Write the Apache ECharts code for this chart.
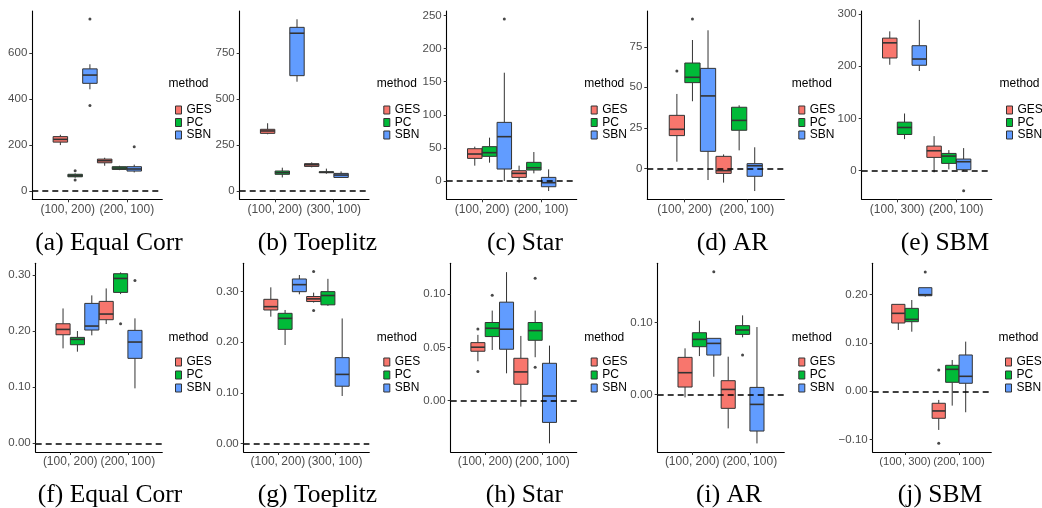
<!DOCTYPE html>
<html lang="en">
<head>
<meta charset="UTF-8">
<title>boxplots</title>
<script src="https://cdn.jsdelivr.net/npm/echarts@6/dist/echarts.min.js"></script>
<style>
  html, body { margin: 0; padding: 0; background: #fff; }
  #main { width: 1042px; height: 508px; }
</style>
</head>
<body>
<div id="main"></div>
<script>
  // 方法和颜色
  var methods = ['GES', 'PC', 'SBN'];
  var colors = ['#F8766D', '#00BA38', '#619CFF'];

  // x 轴分类
  var cats12 = ['(100, 200)', '(200, 100)'];
  var cats31 = ['(100, 200)', '(300, 100)'];
  var catsSbm = ['(100, 300)', '(200, 100)'];

  // y 轴刻度
  var ticksA = [0, 200, 400, 600];
  var ticksB = [0, 250, 500, 750];
  var ticksC = [0, 50, 100, 150, 200, 250];
  var ticksD = [0, 25, 50, 75];
  var ticksE = [0, 100, 200, 300];
  var ticksF = [0, 0.1, 0.2, 0.3];
  var ticksG = [0, 0.1, 0.2, 0.3];
  var ticksH = [0, 0.05, 0.1];
  var ticksI = [0, 0.1];
  var ticksJ = [-0.1, 0, 0.1, 0.2];

  // 箱线数据: [GES, PC, SBN], 每个方法两组 [low, q1, median, q3, high]
  var statsA = [
    [[200, 213, 225, 237, 245], [110, 123, 132, 139, 145]],
    [[58, 62, 67, 73, 77], [91, 94, 100, 106, 110]],
    [[443, 469, 505, 532, 552], [81, 87, 96, 106, 115]]
  ];
  var statsB = [
    [[309, 314, 327, 336, 369], [129, 134, 143, 149, 156]],
    [[74, 91, 100, 109, 127], [94, 100, 102, 105, 122]],
    [[595, 628, 859, 891, 935], [71, 74, 87, 96, 107]]
  ];
  var statsC = [
    [[23.2, 34.2, 40.8, 48.8, 51.9], [-2.5, 5.5, 11.6, 15.6, 23.2]],
    [[27.7, 37.3, 42.8, 51.9, 65.5], [11.6, 16.6, 20.1, 28.2, 43.8]],
    [[0, 18.1, 67, 88.6, 163.6], [-15.1, -8.6, -2.5, 5.5, 17.6]]
  ];
  var statsD = [
    [[4.1, 20.2, 24.1, 32.7, 45.9], [-8.8, -3.1, -1.4, 7.4, 8.6]],
    [[41.4, 52.9, 56.2, 65.0, 79.2], [11.1, 23.5, 29.6, 37.7, 38.9]],
    [[-7.2, 10.5, 44.7, 61.7, 85.2], [-14.0, -4.9, 1.6, 2.9, 13.0]]
  ];
  var statsE = [
    [[203, 216, 245, 254, 267], [-3.2, 25.5, 38.2, 47.1, 66.2]],
    [[60.5, 69.4, 82.8, 93, 109.6], [2.5, 14, 28, 33.1, 39.5]],
    [[191, 202, 214, 239.5, 289], [0, 1.9, 17.2, 22.3, 43.3]]
  ];
  var statsF = [
    [[0.1693, 0.1936, 0.2031, 0.2132, 0.2405], [0.2127, 0.2204, 0.2305, 0.2531, 0.2762]],
    [[0.1634, 0.1758, 0.1853, 0.1889, 0.2002], [0.2661, 0.2691, 0.2940, 0.3024, 0.3048]],
    [[0.1925, 0.2020, 0.2091, 0.2495, 0.2638], [0.0980, 0.1515, 0.1806, 0.2014, 0.2228]]
  ];
  var statsG = [
    [[0.2505, 0.2637, 0.2703, 0.2848, 0.3085], [0.2784, 0.2804, 0.2857, 0.2903, 0.298]],
    [[0.1945, 0.2254, 0.2472, 0.2571, 0.2637], [0.2719, 0.2739, 0.2923, 0.300, 0.3253]],
    [[0.2947, 0.2999, 0.3138, 0.3250, 0.3329], [0.0937, 0.113, 0.1364, 0.1695, 0.247]]
  ];
  var statsH = [
    [[0.037, 0.0464, 0.0502, 0.0545, 0.0618], [-0.0056, 0.0154, 0.0270, 0.0398, 0.0608]],
    [[0.0476, 0.0602, 0.0680, 0.0734, 0.0846], [0.0408, 0.0567, 0.0658, 0.0734, 0.0846]],
    [[0.0257, 0.0483, 0.0671, 0.0925, 0.1207], [-0.0401, -0.0204, 0.0044, 0.0351, 0.0517]]
  ];
  var statsI = [
    [[-0.0042, 0.0102, 0.0301, 0.0514, 0.0639], [-0.0472, -0.0194, 0.0069, 0.0190, 0.0523]],
    [[0.0532, 0.0662, 0.0764, 0.0856, 0.1023], [0.0792, 0.0833, 0.0894, 0.0954, 0.1097]],
    [[0.0245, 0.0546, 0.0708, 0.0778, 0.0778], [-0.0681, -0.0509, -0.0139, 0.0097, 0.0935]]
  ];
  var statsJ = [
    [[0.1269, 0.1414, 0.1614, 0.180, 0.180], [-0.080, -0.0559, -0.0407, -0.0248, -0.0179]],
    [[0.1234, 0.1441, 0.149, 0.1717, 0.189], [-0.0297, 0.0186, 0.0455, 0.0538, 0.0648]],
    [[0.1959, 0.1979, 0.2, 0.2145, 0.2145], [-0.0434, 0.0166, 0.031, 0.0752, 0.1028]]
  ];

  // 离群点: [方法序号, 分组序号, 值]
  var outA = [[1, 0, 88], [1, 0, 48], [2, 0, 749], [2, 0, 373], [2, 1, 193]];
  var outB = [];
  var outC = [[2, 0, 244.7]];
  var outD = [[0, 0, 60.1], [1, 0, 92.2]];
  var outE = [[2, 1, -38.2]];
  var outF = [[1, 1, 0.2132], [2, 1, 0.2905]];
  var outG = [[0, 1, 0.340], [0, 1, 0.2626]];
  var outH = [[0, 0, 0.0674], [0, 0, 0.0273], [1, 0, 0.0991], [1, 1, 0.1150], [1, 1, 0.0313]];
  var outI = [[2, 0, 0.1704], [1, 1, 0.0546]];
  var outJ = [[2, 0, 0.2469], [0, 1, -0.1076], [0, 1, 0.0441]];

  // 面板布局
  var panels = [
    {stats: statsA, out: outA, cats: cats12, ticks: ticksA, dec: 0, caption: '(a) Equal Corr',
      left: 32.3, top: 11, width: 130, height: 188.3, ymin: -36, ymax: 784, legX: 170, capX: 109},
    {stats: statsB, out: outB, cats: cats31, ticks: ticksB, dec: 0, caption: '(b) Toeplitz',
      left: 239.7, top: 11, width: 129.3, height: 188.3, ymin: -45, ymax: 980, legX: 378.3, capX: 317.5},
    {stats: statsC, out: outC, cats: cats12, ticks: ticksC, dec: 0, caption: '(c) Star',
      left: 446.7, top: 11, width: 130, height: 188.3, ymin: -27.6, ymax: 256.8, legX: 585.7, capX: 525},
    {stats: statsD, out: outD, cats: cats12, ticks: ticksD, dec: 0, caption: '(d) AR',
      left: 647.3, top: 11, width: 137, height: 188.3, ymin: -19.1, ymax: 97.1, legX: 793.3, capX: 732.5},
    {stats: statsE, out: outE, cats: catsSbm, ticks: ticksE, dec: 0, caption: '(e) SBM',
      left: 861.7, top: 11, width: 130, height: 188.3, ymin: -54.8, ymax: 306, legX: 1001, capX: 945},
    {stats: statsF, out: outF, cats: cats12, ticks: ticksF, dec: 2, caption: '(f) Equal Corr',
      left: 35.7, top: 263.3, width: 126.6, height: 188.7, ymin: -0.0155, ymax: 0.321, legX: 170, capX: 110},
    {stats: statsG, out: outG, cats: cats31, ticks: ticksG, dec: 2, caption: '(g) Toeplitz',
      left: 243.7, top: 263.3, width: 125.6, height: 188.7, ymin: -0.017, ymax: 0.356, legX: 378.3, capX: 317.5},
    {stats: statsH, out: outH, cats: cats12, ticks: ticksH, dec: 2, caption: '(h) Star',
      left: 450.7, top: 263.3, width: 126, height: 188.7, ymin: -0.0482, ymax: 0.129, legX: 585.7, capX: 524.3},
    {stats: statsI, out: outI, cats: cats12, ticks: ticksI, dec: 2, caption: '(i) AR',
      left: 657.7, top: 263.3, width: 126.6, height: 188.7, ymin: -0.080, ymax: 0.182, legX: 793.3, capX: 729},
    {stats: statsJ, out: outJ, cats: catsSbm, ticks: ticksJ, dec: 2, caption: '(j) SBM',
      left: 872.7, top: 263.3, width: 118.6, height: 188.7, ymin: -0.1257, ymax: 0.265, legX: 1000, capX: 940}
  ];

  var sans = 'Liberation Sans, Arial, sans-serif';
  var serif = 'Liberation Serif, Times New Roman, serif';
  var boxW = 0.245;

  // 箱子的 x 位置 (分组 g, 方法 m)
  function boxX(g, m) {
    return 0.875 + 0.25 * (g * 3 + m);
  }

  function renderBox(params, api) {
    var x = api.value(0);
    var half = api.size([boxW, 0])[0] / 2;
    var lo = api.coord([x, api.value(1)]);
    var q1 = api.coord([x, api.value(2)]);
    var md = api.coord([x, api.value(3)]);
    var q3 = api.coord([x, api.value(4)]);
    var hi = api.coord([x, api.value(5)]);
    var stroke = {stroke: '#333333', lineWidth: 1};
    return {
      type: 'group',
      children: [
        {type: 'line', shape: {x1: hi[0], y1: hi[1], x2: q3[0], y2: q3[1]}, style: stroke},
        {type: 'line', shape: {x1: q1[0], y1: q1[1], x2: lo[0], y2: lo[1]}, style: stroke},
        {type: 'rect', shape: {x: q3[0] - half, y: q3[1], width: half * 2, height: q1[1] - q3[1]},
          style: {fill: api.visual('color'), stroke: '#333333', lineWidth: 1}},
        {type: 'line', shape: {x1: md[0] - half, y1: md[1], x2: md[0] + half, y2: md[1]},
          style: {stroke: '#333333', lineWidth: 1.6}}
      ]
    };
  }

  var grids = [], xAxes = [], yAxes = [], series = [], legends = [], graphics = [];

  panels.forEach(function (p, i) {
    var top = i < 5;
    // 标签太挤的面板把字号调小一点, 免得被自动隐藏
    var xFont = p.width < 120 ? 11.3 : 12;
    grids.push({left: p.left, top: p.top, width: p.width, height: p.height});
    xAxes.push({
      gridIndex: i, type: 'value', min: 0.4, max: 2.6,
      axisLine: {show: true, onZero: false, lineStyle: {color: '#000', width: 1.1}},
      axisTick: {show: true, customValues: [1, 2], length: 3, lineStyle: {color: '#333'}},
      axisLabel: {
        customValues: [1, 2], margin: 4, color: '#4d4d4d', fontSize: xFont, fontFamily: sans,
        showMinLabel: true, showMaxLabel: true, hideOverlap: false,
        formatter: function (v) { return p.cats[Math.round(v) - 1]; }
      },
      splitLine: {show: false}
    });
    yAxes.push({
      gridIndex: i, type: 'value', min: p.ymin, max: p.ymax,
      axisLine: {show: true, onZero: false, lineStyle: {color: '#000', width: 1.1}},
      axisTick: {show: true, customValues: p.ticks, length: 3, lineStyle: {color: '#333'}},
      axisLabel: {
        customValues: p.ticks, margin: 5, color: '#4d4d4d', fontSize: 11.5, fontFamily: sans,
        showMinLabel: true, showMaxLabel: true,
        formatter: function (v) {
          var s = v.toFixed(p.dec);
          return s.charAt(0) === '-' ? '\u2212' + s.slice(1) : s;
        }
      },
      splitLine: {show: false}
    });

    // 每个方法一个自定义箱线系列
    methods.forEach(function (name, m) {
      var data = p.stats[m].map(function (s, g) {
        return [boxX(g, m)].concat(s);
      });
      series.push({
        name: name, type: 'custom', xAxisIndex: i, yAxisIndex: i,
        itemStyle: {color: colors[m]},
        encode: {x: 0, y: [1, 2, 3, 4, 5]},
        renderItem: renderBox,
        data: data,
        silent: true, z: 3
      });
    });

    // 离群点和 0 参考线
    series.push({
      type: 'scatter', xAxisIndex: i, yAxisIndex: i,
      symbolSize: 3, itemStyle: {color: '#1a1a1a'},
      data: p.out.map(function (o) { return [boxX(o[1], o[0]), o[2]]; }),
      silent: true, z: 4,
      markLine: {
        silent: true, symbol: 'none', animation: false,
        label: {show: false},
        lineStyle: {color: '#000', type: [6, 4], width: 1.5},
        data: [{yAxis: 0}]
      }
    });

    var gesY = top ? 103 : 355;
    var step = top ? 11.5 : 12;
    legends.push({
      orient: 'vertical', left: p.legX, top: gesY - 4,
      data: methods, icon: 'rect', itemWidth: 6, itemHeight: 8, itemGap: step - 11,
      itemStyle: {borderColor: '#333', borderWidth: 1},
      textStyle: {color: '#000', fontSize: 12, fontFamily: sans, lineHeight: 11},
      selectedMode: false
    });
    graphics.push({
      type: 'text', left: p.legX - 1.5, top: (top ? 85 : 338.3) - 7,
      style: {text: 'method', fill: '#000', font: '12px ' + sans}
    });
    graphics.push({
      type: 'text', x: p.capX, y: top ? 243 : 495,
      style: {text: p.caption, fill: '#000', font: '25.5px ' + serif, textAlign: 'center', textVerticalAlign: 'middle'}
    });
  });

  var myChart = echarts.init(document.getElementById('main'), null, {renderer: 'canvas'});
  var option = {
    animation: false,
    backgroundColor: '#fff',
    grid: grids,
    xAxis: xAxes,
    yAxis: yAxes,
    legend: legends,
    graphic: graphics,
    series: series
  };
  option && myChart.setOption(option);
</script>
</body>
</html>
